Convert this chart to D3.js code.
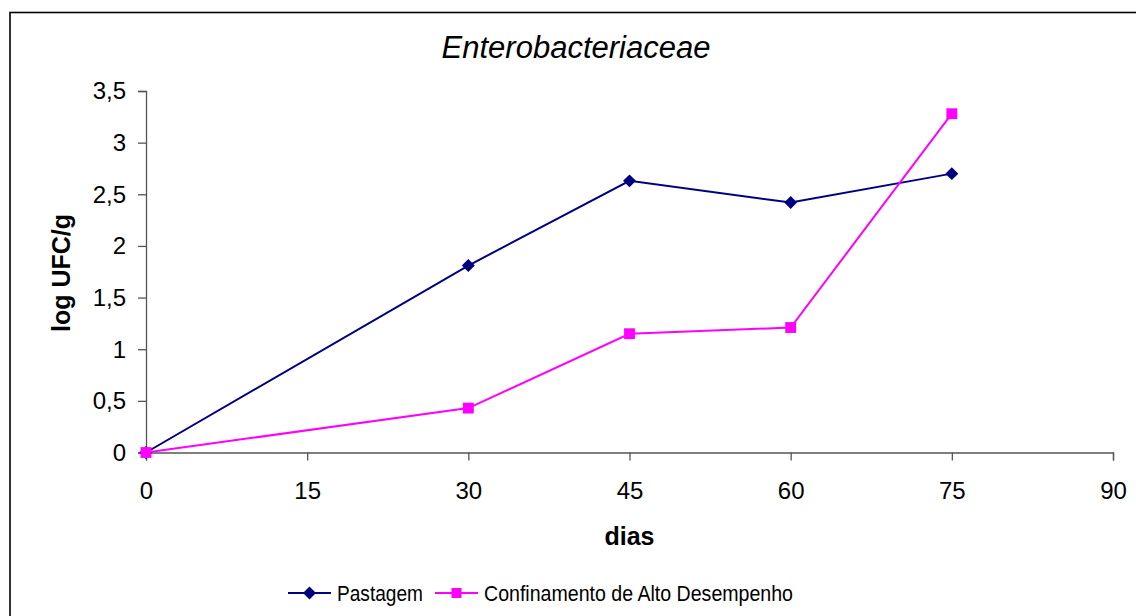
<!DOCTYPE html>
<html>
<head>
<meta charset="utf-8">
<script src="https://cdn.jsdelivr.net/npm/d3@7"></script>
<style>
  html, body { margin: 0; padding: 0; background: #fff; }
  svg { display: block; font-family: "Liberation Sans", Arial, sans-serif; }
</style>
</head>
<body>
<svg id="chart" width="1136" height="616"></svg>
<script>
// Sampling days and log counts for each system
const dias = [0, 30, 45, 60, 75];
const pastagem = [0, 1.81, 2.63, 2.42, 2.70];
const confinamento = [0, 0.43, 1.15, 1.21, 3.28];
const xTicks = [0, 15, 30, 45, 60, 75, 90];
const yTicks = [0, 0.5, 1, 1.5, 2, 2.5, 3, 3.5];
const seriesNames = ["Pastagem", "Confinamento de Alto Desempenho"];

const svg = d3.select("#chart");
const W = 1136, H = 616;
const plot = { left: 146, right: 1113, top: 91, bottom: 452.5 };

const fmt = d => String(d).replace(".", ",");

// outer chart frame
svg.append("rect")
  .attr("x", 10).attr("y", 12.5)
  .attr("width", W + 20).attr("height", H + 20)
  .attr("fill", "none").attr("stroke", "#000").attr("stroke-width", 1.6);

const x = d3.scaleLinear().domain([0, 90]).range([plot.left, plot.right]);
const y = d3.scaleLinear().domain([0, 3.5]).range([plot.bottom, plot.top]);

// axes
const xAxis = svg.append("g")
  .attr("transform", `translate(0,${plot.bottom})`)
  .call(d3.axisBottom(x).tickValues(xTicks).tickFormat(fmt).tickSize(8).tickPadding(21));
const yAxis = svg.append("g")
  .attr("transform", `translate(${plot.left},0)`)
  .call(d3.axisLeft(y).tickValues(yTicks).tickFormat(fmt).tickSize(8).tickPadding(12));

[xAxis, yAxis].forEach(g => {
  g.select(".domain").attr("stroke", "#555").attr("stroke-width", 1.3);
  g.selectAll(".tick line").attr("stroke", "#555").attr("stroke-width", 1.3);
  g.selectAll(".tick text")
    .attr("fill", "#000")
    .attr("font-size", 24)
    .attr("font-family", "Liberation Sans, Arial, sans-serif");
});
yAxis.selectAll(".tick text").attr("dy", "0.33em");

// title
svg.append("text")
  .attr("x", 576).attr("y", 58)
  .attr("text-anchor", "middle")
  .attr("font-size", 31).attr("font-style", "italic")
  .text("Enterobacteriaceae");

// axis titles
svg.append("text")
  .attr("x", (plot.left + plot.right) / 2).attr("y", 545)
  .attr("text-anchor", "middle")
  .attr("font-size", 25).attr("font-weight", "bold")
  .text("dias");
svg.append("text")
  .attr("transform", "translate(70,273) rotate(-90)")
  .attr("text-anchor", "middle")
  .attr("font-size", 25).attr("font-weight", "bold")
  .text("log UFC/g");

const colors = ["#000080", "#FF00FF"];
const line = d3.line().x(d => x(d[0])).y(d => y(d[1]));

function drawSeries(values, color, size, rotate) {
  const pts = dias.map((d, i) => [d, values[i]]);
  svg.append("path")
    .attr("d", line(pts))
    .attr("fill", "none").attr("stroke", color).attr("stroke-width", 2);
  svg.append("g").selectAll("path").data(pts).join("path")
    .attr("transform", d => `translate(${x(d[0])},${y(d[1])})${rotate ? " rotate(45)" : ""}`)
    .attr("d", d3.symbol().type(d3.symbolSquare).size(size)())
    .attr("fill", color);
}

// diamonds (rotated squares) for pasture, squares for feedlot
drawSeries(pastagem, colors[0], 84, true);
drawSeries(confinamento, colors[1], 118, false);

// legend
const legend = [
  { name: seriesNames[0], color: colors[0], x0: 288, rotate: true, size: 84, w: 86 },
  { name: seriesNames[1], color: colors[1], x0: 435, rotate: false, size: 100, w: 309 }
];
const ly = 593;
legend.forEach(l => {
  svg.append("line")
    .attr("x1", l.x0).attr("x2", l.x0 + 43)
    .attr("y1", ly).attr("y2", ly)
    .attr("stroke", l.color).attr("stroke-width", 2);
  svg.append("path")
    .attr("transform", `translate(${l.x0 + 21.5},${ly})${l.rotate ? " rotate(45)" : ""}`)
    .attr("d", d3.symbol().type(d3.symbolSquare).size(l.size)())
    .attr("fill", l.color);
  svg.append("text")
    .attr("x", l.x0 + 49).attr("y", ly + 8)
    .attr("font-size", 22)
    .attr("textLength", l.w)
    .attr("lengthAdjust", "spacingAndGlyphs")
    .text(l.name);
});
</script>
</body>
</html>
